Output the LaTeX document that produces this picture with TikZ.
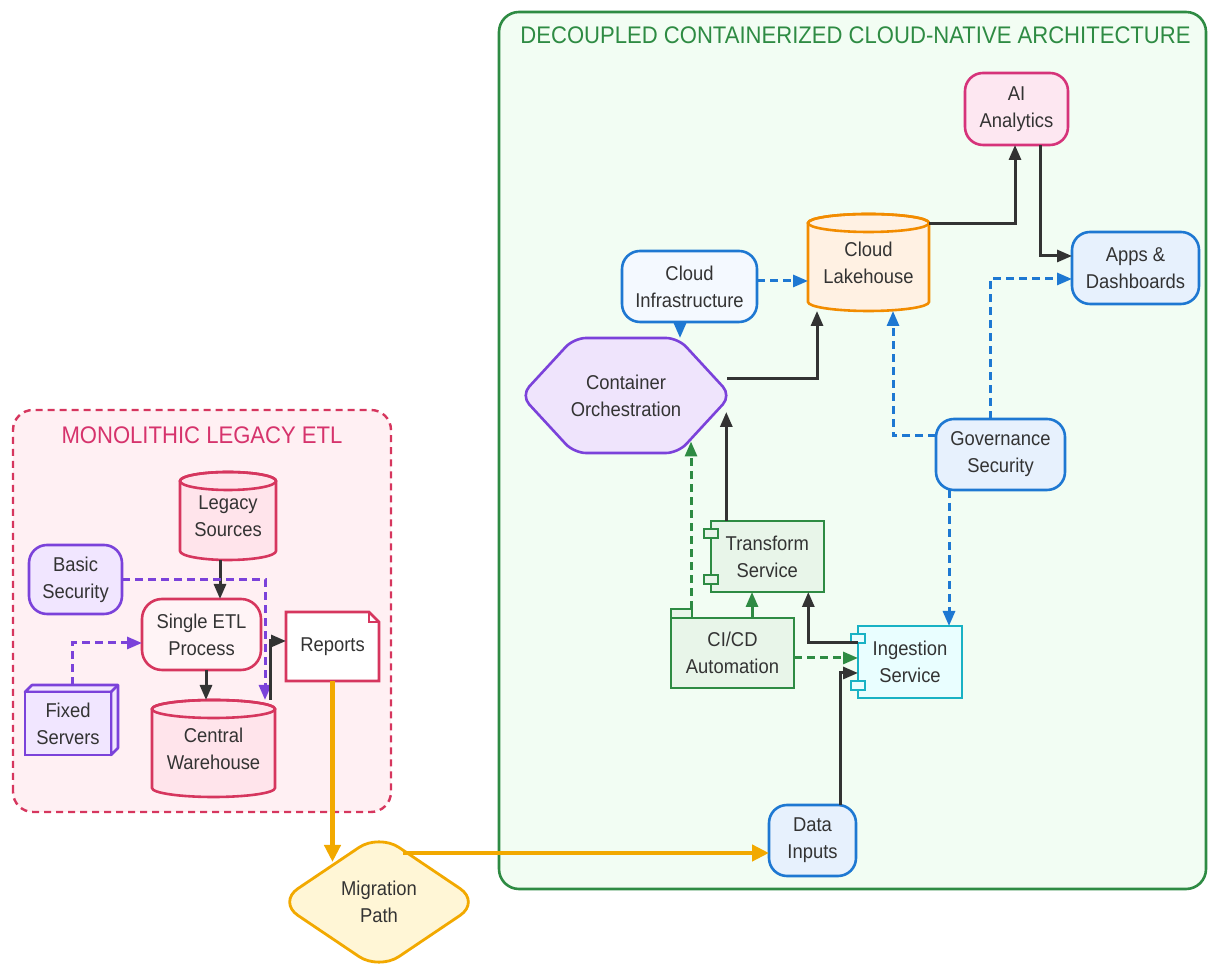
\documentclass[tikz,border=0pt]{standalone}
\usepackage{fontspec}
\setmainfont[FakeStretch=0.92]{Liberation Sans}
\usetikzlibrary{arrows.meta,calc}
\definecolor{ink}{RGB}{51,51,51}
\definecolor{crim}{RGB}{214,54,94}
\definecolor{crimT}{RGB}{214,51,108}
\definecolor{legbg}{RGB}{255,240,243}
\definecolor{pinkfill}{RGB}{255,228,235}
\definecolor{etlfill}{RGB}{255,244,246}
\definecolor{purp}{RGB}{123,66,218}
\definecolor{lav}{RGB}{241,230,255}
\definecolor{grn}{RGB}{46,139,67}
\definecolor{cloudbg}{RGB}{242,253,243}
\definecolor{grnfill}{RGB}{232,245,233}
\definecolor{blu}{RGB}{30,120,210}
\definecolor{blufill}{RGB}{231,241,253}
\definecolor{blufillL}{RGB}{244,249,255}
\definecolor{orng}{RGB}{242,140,0}
\definecolor{orfill}{RGB}{255,241,227}
\definecolor{mag}{RGB}{214,51,122}
\definecolor{magfill}{RGB}{253,231,241}
\definecolor{cyn}{RGB}{25,178,196}
\definecolor{cynfill}{RGB}{233,254,255}
\definecolor{gold}{RGB}{242,169,0}
\definecolor{goldfill}{RGB}{255,246,214}
\definecolor{contfill}{RGB}{239,228,252}
\pgfdeclarelayer{bg}
\pgfdeclarelayer{shp}
\pgfsetlayers{bg,shp,main}
\tikzset{
  txt/.style={align=center, text=ink, font=\fontsize{20}{27}\selectfont, inner sep=0pt, outer sep=0pt},
  rbox/.style={txt, draw, line width=2.6pt, rounded corners=18pt},
  sbox/.style={txt, draw, line width=2.6pt},
  ttl/.style={font=\fontsize{24}{28}\selectfont, inner sep=0pt},
  conn/.style={line width=3pt, draw=ink, -{Triangle[length=15pt,width=12pt]}},
  dconn/.style={conn, dash pattern=on 8pt off 5pt},
  mconn/.style={line width=4.5pt, draw=gold, -{Triangle[length=17pt,width=16pt]}},
}
\newcommand\cylnode[8]{%
  \begin{pgfonlayer}{shp}
  \filldraw[line width=2.6pt, draw=#6, fill=#7] (#2-#4/2, #3+#5/2-9) -- (#2-#4/2, #3-#5/2+9)
    arc[start angle=180, end angle=360, x radius=#4/2, y radius=9] -- (#2+#4/2, #3+#5/2-9)
    arc[start angle=0, end angle=180, x radius=#4/2, y radius=9] -- cycle;
  \draw[line width=2.6pt, draw=#6] (#2, #3+#5/2-9) ellipse [x radius=#4/2, y radius=9];
  \end{pgfonlayer}
  \node[txt, minimum width=#4, minimum height=#5] (#1) at (#2,#3) {#8};
}
\begin{document}
\begin{tikzpicture}[x=1pt,y=1pt]
\useasboundingbox (0,0) rectangle (1209,965);
% containers
\begin{pgfonlayer}{bg}
\filldraw[draw=crim, fill=legbg, line width=2.4pt, dash pattern=on 7pt off 5pt, rounded corners=20pt] (13,153) rectangle (391,555);
\filldraw[draw=grn, fill=cloudbg, line width=2.6pt, rounded corners=20pt] (499,76) rectangle (1206,953);
\end{pgfonlayer}
\node[ttl, text=crimT] (legTitle) at (202,530) {MONOLITHIC LEGACY ETL};
\node[ttl, text=grn] (cloudTitle) at (855.5,930) {DECOUPLED CONTAINERIZED CLOUD-NATIVE ARCHITECTURE};

% legacy nodes
\cylnode{legacySrc}{228}{449}{96}{88}{crim}{pinkfill}{Legacy\\Sources}
\cylnode{warehouse}{213.5}{216.5}{123}{97}{crim}{pinkfill}{Central\\Warehouse}
\node[rbox, draw=purp, fill=lav, minimum width=93, minimum height=69] (basicSec) at (75.5,385.5) {Basic\\Security};
\node[rbox, draw=crim, fill=etlfill, minimum width=119, minimum height=71, rounded corners=20pt] (etl) at (201.5,330.5) {Single ETL\\Process};
\node[txt, minimum width=93, minimum height=69] (reports) at (332.5,318.5) {Reports};
\begin{pgfonlayer}{shp}
\filldraw[draw=crim, fill=white, line width=2.6pt] (reports.south west) -- (reports.north west) -- ([xshift=-10]reports.north east) -- ([yshift=-10]reports.north east) -- (reports.south east) -- cycle;
\draw[crim, line width=1.5pt] ([xshift=-10]reports.north east) -- ([xshift=-10,yshift=-10]reports.north east) -- ([yshift=-10]reports.north east);
\filldraw[draw=purp, fill=lav, line width=2.6pt, line join=round] (68-43,241.5+31.5) -- ++(7,7) -- ++(86,0) -- ++(0,-63) -- ++(-7,-7) -- (68+43,241.5+31.5) -- cycle;
\draw[purp, line width=2.6pt] (68+43,241.5+31.5) -- ++(7,7);
\end{pgfonlayer}
\node[sbox, draw=purp, fill=lav, minimum width=86, minimum height=63] (fixed) at (68,241.5) {Fixed\\Servers};

% migration
\node[txt, minimum width=202, minimum height=136] (migration) at (379,63) {Migration\\Path};
\begin{pgfonlayer}{shp}
\filldraw[draw=gold, fill=goldfill, line width=2.8pt, rounded corners=24pt] ($(migration.north)!0.5!(migration.east)$) -- (migration.east) -- (migration.south) -- (migration.west) -- (migration.north) -- cycle;
\end{pgfonlayer}

% cloud nodes
\node[rbox, draw=blu, fill=blufill, minimum width=87, minimum height=71] (dataInputs) at (812.5,124.5) {Data\\Inputs};
\node[sbox, draw=cyn, fill=cynfill, minimum width=104, minimum height=72] (ingestion) at (910,303) {Ingestion\\Service};
\node[sbox, draw=grn, fill=grnfill, minimum width=113, minimum height=71] (transform) at (767.3,408.5) {Transform\\Service};
\node[sbox, draw=grn, fill=grnfill, minimum width=123, minimum height=70] (cicd) at (732.5,312) {CI/CD\\Automation};
\filldraw[draw=grn, fill=grnfill, line width=2pt] ([yshift=-12.5]transform.north west) ++(-7,-4.5) rectangle ++(14,9);
\filldraw[draw=grn, fill=grnfill, line width=2pt] ([yshift=12]transform.south west) ++(-7,-4.5) rectangle ++(14,9);
\filldraw[draw=cyn, fill=cynfill, line width=2pt] ([yshift=-12.5]ingestion.north west) ++(-7,-4.5) rectangle ++(14,9);
\filldraw[draw=cyn, fill=cynfill, line width=2pt] ([yshift=12.5]ingestion.south west) ++(-7,-4.5) rectangle ++(14,9);
\filldraw[draw=grn, fill=grnfill, line width=2.2pt] (cicd.north west) rectangle ++(21,9);

\node[txt, minimum width=210, minimum height=115] (container) at (626,569.5) {Container\\Orchestration};
\begin{pgfonlayer}{shp}
\filldraw[draw=purp, fill=contfill, line width=2.6pt, rounded corners=12pt] (container.north) -- ($(container.north)+(52,0)$) -- (container.east) -- ($(container.south)+(52,0)$) -- ($(container.south)+(-52,0)$) -- (container.west) -- ($(container.north)+(-52,0)$) -- cycle;
\end{pgfonlayer}
\node[rbox, draw=blu, fill=blufillL, minimum width=135, minimum height=71] (cloudInfra) at (689.5,678.5) {Cloud\\Infrastructure};
\cylnode{lakehouse}{868.5}{702.5}{121}{97}{orng}{orfill}{Cloud\\Lakehouse}
\node[rbox, draw=mag, fill=magfill, minimum width=103, minimum height=72] (ai) at (1016.5,856) {AI\\Analytics};
\node[rbox, draw=blu, fill=blufill, minimum width=127, minimum height=72] (apps) at (1135.5,697) {Apps \&\\Dashboards};
\node[rbox, draw=blu, fill=blufill, minimum width=129, minimum height=71] (gov) at (1000.5,510.5) {Governance\\Security};

% helper coordinates
\coordinate (migIn) at ($(reports.south |- migration.north)+(0,-28)$);
\coordinate (migOut) at ($(migration.north)+(24,-19)$);
\coordinate (contIn) at ($(container.center)+(0,-16.5)$);
\coordinate (contIn2) at ($(container.center)+(0,-46)$);
\coordinate (contOut) at ($(container.center)+(101,16.5)$);

% legacy connectors
\draw[conn] ([xshift=-8]legacySrc.south) -- ([xshift=-8]legacySrc.south |- etl.north);
\draw[conn] ([xshift=4.5]etl.south) -- ([xshift=4.5]etl.south |- warehouse.north);
\draw[dconn, draw=purp] (basicSec.east) -| ([xshift=51.5]warehouse.north);
\draw[dconn, draw=purp] ([xshift=4,yshift=7]fixed.north) |- ([yshift=-8.5]etl.west);
\draw[conn] ([xshift=56.5]warehouse.north) |- ([yshift=5.5]reports.west);
% migration connectors
\draw[mconn] (reports.south) -- (migIn);
\draw[mconn] (migOut) -- (migOut -| dataInputs.west);
% cloud connectors
\draw[conn] ([xshift=27.5]dataInputs.north) |- ([yshift=-11]ingestion.west);
\draw[conn] ([yshift=19]ingestion.west) -| ([xshift=41]transform.south);
\draw[conn] ([xshift=-41]transform.north) -- ([xshift=-41]transform.north |- contIn);
\draw[conn, draw=grn] ([xshift=19.5]cicd.north) -- ([xshift=19.5]cicd.north |- transform.south);
\draw[dconn, draw=grn] ([xshift=-41.5,yshift=9]cicd.north) -- ([xshift=-41.5]cicd.north |- contIn2);
\draw[dconn, draw=grn] ([yshift=-5]cicd.east) -- ([yshift=-5]cicd.east -| ingestion.west);
\draw[conn] (contOut) -| ([xshift=-51.5]lakehouse.south);
\draw[dconn, draw=blu] ([xshift=-9.5]cloudInfra.south) -- ([xshift=-9.5]cloudInfra.south |- container.north);
\draw[dconn, draw=blu] ([yshift=5.5]cloudInfra.east) -- ([yshift=5.5]cloudInfra.east -| lakehouse.west);
\draw[conn] ([yshift=38.5]lakehouse.east) -| ([xshift=-1.5]ai.south);
\draw[conn] ([xshift=23.5]ai.south) |- ([yshift=12]apps.west);
\draw[dconn, draw=blu] ([yshift=18.5]gov.west) -| ([xshift=24.5]lakehouse.south);
\draw[dconn, draw=blu] ([xshift=-10.5]gov.north) |- ([yshift=-11]apps.west);
\draw[dconn, draw=blu] ([xshift=-51.5]gov.south) -- ([xshift=-51.5]gov.south |- ingestion.north);
\end{tikzpicture}
\end{document}
